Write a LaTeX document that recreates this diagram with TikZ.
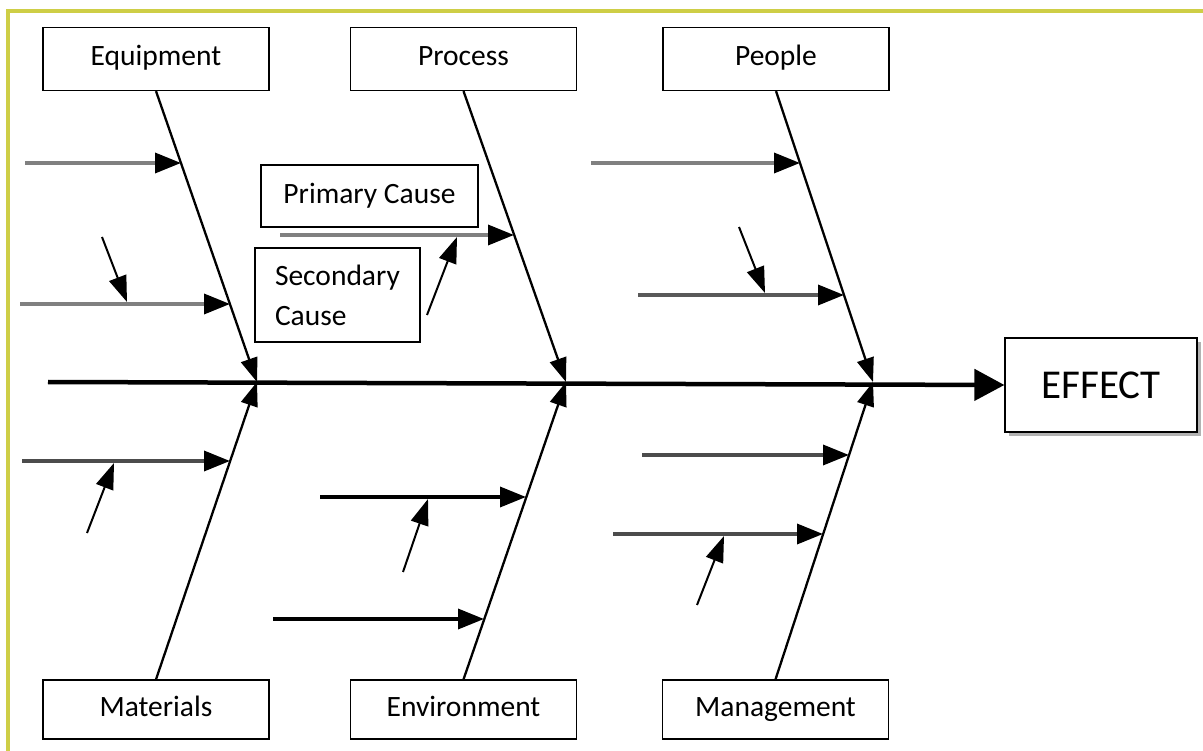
\documentclass[tikz,border=0pt]{standalone}
\usepackage{fontspec}
\setmainfont{Carlito}
\usetikzlibrary{arrows.meta,shadows}
\definecolor{framecol}{RGB}{206,206,70}

\begin{document}
\begin{tikzpicture}[x=1pt, y=-1pt,
  every node/.style={draw, line width=1.2pt, inner sep=0pt, fill=white, font=\fontsize{29.5}{40}\selectfont},
  cat/.style={minimum width=226pt, minimum height=63pt, text height=20pt, text depth=6pt},
  spine/.style={line width=4.5pt, -{Triangle[length=30pt,width=31pt]}},
  bone/.style={line width=2.3pt, -{Triangle[length=24pt,width=17pt]}},
  cause/.style={line width=3.5pt, -{Triangle[length=26pt,width=20pt,color=black]}},
  subcause/.style={line width=2pt, -{Triangle[length=26pt,width=18pt]}}
]
\useasboundingbox (0,0) rectangle (1203,751);
\draw[framecol, line width=3.5pt] (8,751) -- (8,11) -- (1203,11);

% categories
\node[cat] (equip) at (156,59) {Equipment};
\node[cat] (proc) at (463.5,59) {Process};
\node[cat] (people) at (776,59) {People};
\node[cat, minimum height=59pt] (mat) at (156,709.5) {Materials};
\node[cat, minimum height=59pt] (env) at (463.5,709.5) {Environment};
\node[cat, minimum height=59pt] (mgmt) at (775.5,709.5) {Management};

% effect
\node[minimum width=192pt, minimum height=94pt, font=\fontsize{41}{48}\selectfont,
  drop shadow={shadow xshift=4pt, shadow yshift=-4pt, fill=black!30, opacity=1}] (effect) at (1101,385) {EFFECT};

% legend boxes
\node[minimum width=217pt, minimum height=62pt] (prim) at (369.5,196) {Primary Cause};
\node[text width=125pt, inner xsep=20pt, minimum height=94pt, align=left] (sec) at (337.5,295) {Secondary\\Cause};

% spine and bones
\coordinate (tail) at (48,382);
\coordinate (j1) at (257,382);
\coordinate (j2) at (566,382);
\coordinate (j3) at (873,382);
\draw[spine] (tail) -- (effect.west);
\foreach \top/\bot/\j in {equip/mat/j1, proc/env/j2, people/mgmt/j3} {
  \draw[bone] (\top.south) -- (\j);
  \draw[bone] (\bot.north) -- (\j);
}

% primary causes
\foreach \n/\xa/\xb/\y/\c in {e1/25/181/163/black!50, e2/20/230/304/black!50,
  m1/22/230/461/black!70, p1/280/514/235/black!50, v1/320/526/497/black,
  v2/273/484/619/black, h1/591/800/163/black!50, h2/638/844/295/black!65,
  g1/642/849/455/black!70, g2/613/823/534/black!70} {
  \coordinate (\n s) at (\xa,\y);
  \coordinate (\n e) at (\xb,\y);
  \draw[cause, draw=\c] (\n s) -- (\n e);
}

% secondary causes
\foreach \n/\xa/\ya/\xb/\yb in {e2/102/237/127/302, m1/87/533/114/463,
  p1/427/315/457/237, v1/403/572/428/499, h2/739/227/765/293, g2/697/605/724/536} {
  \coordinate (\n a) at (\xa,\ya);
  \coordinate (\n b) at (\xb,\yb);
  \draw[subcause] (\n a) -- (\n b);
}
\end{tikzpicture}
\end{document}
